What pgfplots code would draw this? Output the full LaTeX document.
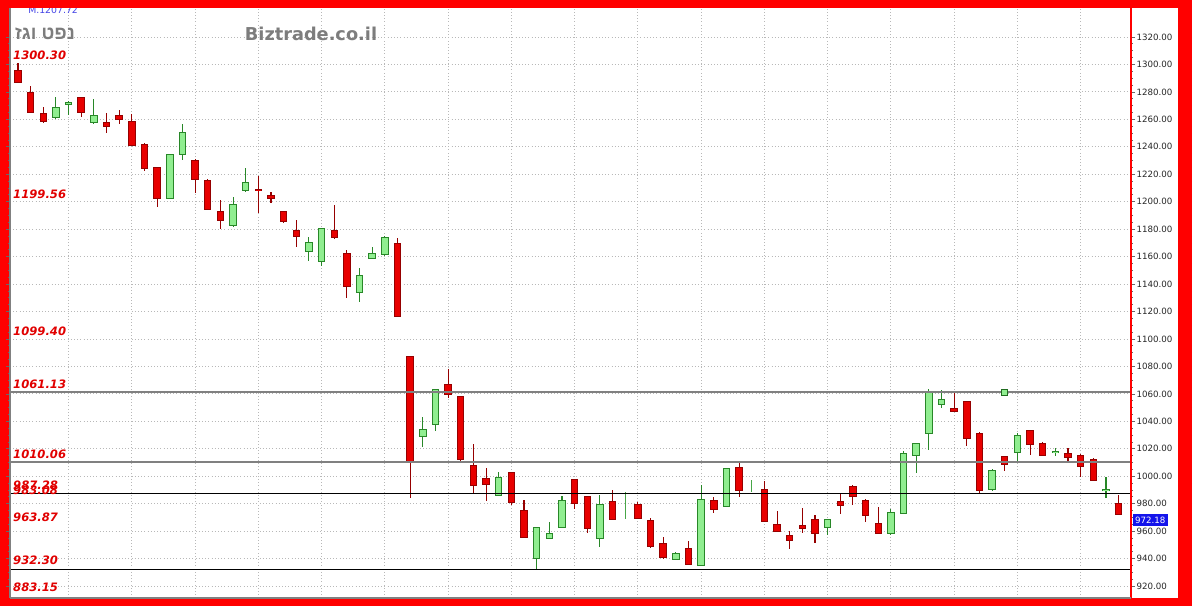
\documentclass[border=0pt]{standalone}
\usepackage{pgfplots}
\pgfplotsset{compat=1.18}
\usepackage{pgfplotstable}
\usepackage{fontspec}
\setmainfont{DejaVu Sans}
\newfontfamily\hebfont[Script=Hebrew]{Liberation Sans}
\TeXXeTstate=1
\definecolor{frame}{RGB}{255,0,0}
\definecolor{rfill}{RGB}{232,0,0}
\definecolor{rline}{RGB}{150,0,0}
\definecolor{gfill}{RGB}{144,238,144}
\definecolor{gline}{RGB}{40,135,40}
\definecolor{lvl}{RGB}{128,128,128}
\definecolor{wm}{RGB}{125,125,125}
\definecolor{fib}{RGB}{225,0,0}
\definecolor{lastbox}{RGB}{20,20,235}
\definecolor{mblue}{RGB}{70,70,230}

\pgfplotstableread{
i o h l c
0 1295.2 1300.8 1286.5 1287.0
1 1279.0 1284.3 1264.5 1265.1
2 1263.9 1269.2 1257.6 1259.0
5 1275.6 1276.1 1261.5 1265.1
7 1257.3 1264.4 1249.8 1255.2
8 1262.2 1266.8 1256.8 1260.5
9 1258.1 1264.1 1241.0 1241.5
10 1241.1 1243.0 1222.6 1224.3
11 1224.6 1225.5 1196.4 1202.5
14 1229.9 1230.9 1206.1 1216.8
15 1215.1 1216.3 1194.0 1194.5
16 1192.3 1201.2 1180.3 1186.7
19 1208.8 1218.7 1191.5 1208.3
20 1204.4 1207.3 1198.8 1202.9
21 1192.7 1193.2 1184.3 1186.2
22 1178.4 1186.7 1166.8 1175.2
25 1178.7 1197.6 1172.6 1174.1
26 1161.9 1164.8 1129.6 1138.6
30 1169.2 1173.3 1116.0 1116.9
31 1086.6 1087.0 984.3 1011.3
34 1066.2 1077.9 1057.2 1059.7
35 1057.5 1058.0 1010.1 1012.3
36 1007.6 1023.2 987.0 993.4
37 998.0 1006.2 982.1 994.1
39 1002.1 1002.5 979.0 981.4
40 974.4 982.7 955.0 955.5
44 997.2 998.0 976.1 980.3
45 985.1 985.6 958.4 962.0
47 981.2 989.9 968.5 969.0
49 979.0 981.4 969.0 969.8
50 967.4 969.3 947.5 949.4
51 950.4 955.5 939.5 941.4
53 947.2 952.8 935.3 935.8
55 981.7 985.1 973.4 975.9
57 1005.8 1009.4 984.6 989.9
59 989.9 996.7 967.0 967.6
60 964.4 974.6 959.5 960.1
61 956.8 960.3 947.0 953.5
62 963.9 977.1 958.8 962.0
63 967.9 971.5 951.1 958.5
65 981.0 987.5 972.2 979.0
66 991.9 993.4 979.0 985.6
67 981.7 983.6 966.6 971.7
68 965.2 977.8 958.5 958.8
74 1049.0 1060.4 1047.0 1047.5
75 1054.3 1055.0 1022.0 1028.1
76 1030.5 1032.0 987.0 989.9
78 1013.8 1014.5 1004.0 1008.7
80 1033.1 1034.0 1015.4 1023.5
81 1023.7 1024.7 1015.0 1015.4
83 1016.0 1020.3 1010.6 1013.8
84 1014.9 1016.2 999.6 1007.6
85 1011.8 1013.0 997.0 997.2
87 979.5 986.3 971.5 972.18
}\redtab

\pgfplotstableread{
i o h l c
3 1261.9 1276.5 1260.3 1268.5
4 1271.5 1273.4 1263.2 1271.9
6 1257.8 1274.6 1256.4 1262.7
12 1202.9 1234.5 1202.0 1233.8
13 1235.0 1256.4 1230.4 1250.1
17 1183.0 1203.2 1181.8 1197.4
18 1208.5 1224.3 1206.8 1213.8
23 1163.9 1174.1 1157.0 1169.7
24 1156.6 1180.5 1153.1 1179.9
27 1134.4 1151.5 1127.1 1145.9
28 1158.7 1167.2 1158.0 1161.9
29 1161.9 1175.0 1160.4 1173.8
32 1029.3 1043.3 1021.5 1033.7
33 1037.8 1063.3 1033.1 1062.8
38 986.3 1003.3 986.0 998.9
41 940.2 963.2 931.7 962.0
42 954.8 966.8 954.0 957.9
43 962.8 985.6 962.3 982.1
46 954.7 986.3 948.6 979.2
52 939.5 944.6 939.0 943.1
54 935.3 993.6 935.0 982.4
56 978.3 1006.0 978.0 1005.0
64 963.0 968.0 957.2 967.9
69 958.8 975.9 957.2 973.0
70 973.0 1018.4 972.5 1016.2
71 1015.4 1024.0 1002.1 1023.5
72 1031.3 1063.3 1019.1 1060.4
73 1052.6 1062.8 1049.5 1055.5
77 990.4 1005.0 989.2 1003.8
79 1017.8 1031.7 1009.8 1029.3
82 1017.3 1020.3 1014.7 1017.5
86 989.8 999.2 983.9 990.0
}\greentab

\pgfplotstableread{
i h l
48 988.7 968.8
58 997.2 988.7
}\linetab

\pgfplotsset{
  candle/.style args={#1/#2}{draw=none, no markers, forget plot,
    error bars/.cd, y dir=both, y explicit, error mark=none,
    error bar style={draw=#1, line width=#2, line cap=butt}},
}

\begin{document}
\begin{tikzpicture}[x=0.75pt,y=0.75pt]
\useasboundingbox (0,0) rectangle (1192,606);
\fill[frame] (0,0) rectangle (1192,606);
\fill[white] (1131,8) rectangle (1178,598);
\begin{axis}[
  at={(7.5pt,6pt)}, anchor=south west,
  scale only axis, width=840.75pt, height=442.5pt,
  xmin=-0.63, xmax=87.98, ymin=911.3, ymax=1341.1,
  axis background/.style={fill=white},
  axis line style={draw=none},
  clip=false,
  xtick={4,9,...,84}, xticklabels={}, x tick style={draw=none},
  xmajorgrids, ymajorgrids,
  grid style={dotted, line width=0.6pt, color=black!28},
  ytick={920,940,...,1320},
  yticklabel pos=right,
  y tick style={draw=black!60, line width=0.5pt},
  tick align=outside, major tick length=3pt,
  minor y tick num=3, minor tick length=1.5pt,
  /pgf/number format/assume math mode=true,
  yticklabel={\pgfmathprintnumber[fixed,fixed zerofill,precision=2,1000 sep={}]{\tick}},
  yticklabel style={font=\fontsize{6.5}{7}\selectfont, text=black!85, inner sep=1pt},
]
% wicks
\addplot[candle={rline/0.8pt}]
  table[x=i, y expr={(\thisrow{h}+\thisrow{l})/2}, y error expr={(\thisrow{h}-\thisrow{l})/2}] {\redtab};
\addplot[candle={gline/0.8pt}]
  table[x=i, y expr={(\thisrow{h}+\thisrow{l})/2}, y error expr={(\thisrow{h}-\thisrow{l})/2}] {\greentab};
\addplot[candle={gline!70!gfill/0.8pt}]
  table[x=i, y expr={(\thisrow{h}+\thisrow{l})/2}, y error expr={(\thisrow{h}-\thisrow{l})/2}] {\linetab};
% body outlines
\addplot[candle={rline/5.6pt}]
  table[x=i, y expr={(\thisrow{o}+\thisrow{c})/2}, y error expr={abs(\thisrow{o}-\thisrow{c})/2+0.73}] {\redtab};
\addplot[candle={gline/5.6pt}]
  table[x=i, y expr={(\thisrow{o}+\thisrow{c})/2}, y error expr={abs(\thisrow{o}-\thisrow{c})/2+0.73}] {\greentab};
% body fills
\addplot[candle={rfill/4.1pt}]
  table[x=i, y expr={(\thisrow{o}+\thisrow{c})/2}, y error expr={abs(\thisrow{o}-\thisrow{c})/2}] {\redtab};
\addplot[candle={gfill/4.1pt}]
  table[x=i, y expr={(\thisrow{o}+\thisrow{c})/2}, y error expr={abs(\thisrow{o}-\thisrow{c})/2}] {\greentab};
% level lines
\addplot[lvl, line width=1.5pt, forget plot] coordinates {(-0.63,1061.13) (87.98,1061.13)};
\addplot[lvl, line width=1.5pt, forget plot] coordinates {(-0.63,1010.06) (87.98,1010.06)};
\addplot[black, line width=0.75pt, forget plot] coordinates {(-0.63,987.28) (87.98,987.28)};
\addplot[black, line width=0.75pt, forget plot] coordinates {(-0.63,932.30) (87.98,932.30)};
% marker square
\addplot[only marks, mark=square*, mark size=2.2pt, mark options={fill=gfill, draw=gline!80!black, line width=0.6pt}, forget plot] coordinates {(78,1061.13)};
% axis borders
\draw[frame, line width=1.5pt] (rel axis cs:1,0) -- (rel axis cs:1,1);
\draw[lvl, line width=1.5pt] (rel axis cs:0,0) -- (rel axis cs:0,1);
\draw[lvl, line width=1pt] (rel axis cs:0,0) -- (rel axis cs:1,0);
% fib labels
\begin{scope}[every node/.style={anchor=west, inner sep=0pt, text=fib, font=\fontsize{8.7}{10}\selectfont\bfseries\itshape}]
\node at (axis cs:-0.395,1300.30) [yshift=6.3pt] {1300.30};
\node at (axis cs:-0.395,1199.56) [yshift=6.3pt] {1199.56};
\node at (axis cs:-0.395,1099.40) [yshift=6.3pt] {1099.40};
\node at (axis cs:-0.395,1061.13) [yshift=6.3pt] {1061.13};
\node at (axis cs:-0.395,1010.06) [yshift=6.3pt] {1010.06};
\node at (axis cs:-0.395,987.28) [yshift=6.5pt] {987.28};
\node at (axis cs:-0.395,983.08) [yshift=6.8pt] {983.08};
\node at (axis cs:-0.395,963.87) [yshift=6.5pt] {963.87};
\node at (axis cs:-0.395,932.30) [yshift=6.8pt] {932.30};
\node at (axis cs:-0.395,919.3) {883.15};
\end{scope}
\node[anchor=west, fill=lastbox, text=white, inner xsep=1.5pt, inner ysep=2pt, font=\fontsize{6.5}{7}\selectfont] at (axis cs:88.13,968.1) {972.18};
\end{axis}
\node[text=wm, font=\fontsize{13.3}{15}\selectfont\bfseries] at (311,572) {Biztrade.co.il};
\node[text=wm, font=\hebfont\fontsize{14}{16}\selectfont\bfseries] at (45,572) {\beginR נפט וגז\endR};
\node[anchor=west, text=mblue, inner sep=0pt, font=\fontsize{7}{8}\selectfont] at (28,596) {M.1207.72};
\fill[frame] (0,598) rectangle (1192,606);
\end{tikzpicture}
\end{document}
